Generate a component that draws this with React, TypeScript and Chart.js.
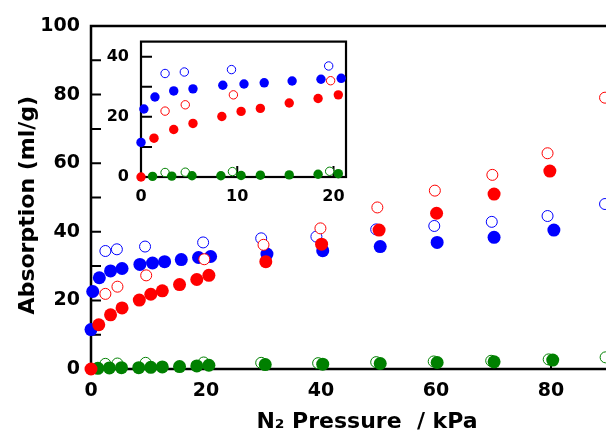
import React, { useEffect, useRef } from "react";
import { Chart, registerables } from "chart.js";

Chart.register(...registerables);

// ---- Data (N2 pressure / kPa, absorption / ml g^-1) ----
const blueFilledX = [0, 0.3, 1.45, 3.4, 5.4, 8.5, 10.7, 12.8, 15.7, 18.7, 20.8, 30.6, 40.3, 50.3, 60.2, 70.1, 80.5];
const blueFilledY = [11.5, 22.6, 26.6, 28.6, 29.3, 30.5, 30.9, 31.3, 31.9, 32.5, 32.8, 33.5, 34.5, 35.7, 36.9, 38.4, 40.5];

const blueOpenX = [2.5, 4.5, 9.4, 19.5, 29.6, 39.2, 49.6, 59.7, 69.7, 79.4, 89.4];
const blueOpenY = [34.4, 34.9, 35.7, 36.9, 38.1, 38.6, 40.7, 41.7, 42.9, 44.6, 48.1];

const redFilledX = [0, 1.35, 3.4, 5.4, 8.4, 10.4, 12.4, 15.4, 18.4, 20.5, 30.4, 40.1, 50.1, 60.1, 70.1, 79.8];
const redFilledY = [0, 12.9, 15.8, 17.8, 20.1, 21.8, 22.8, 24.6, 26.1, 27.3, 31.3, 36.4, 40.5, 45.4, 51.0, 57.7];

const redOpenX = [2.5, 4.6, 9.6, 19.7, 30.0, 39.9, 49.8, 59.8, 69.8, 79.4, 89.4];
const redOpenY = [21.9, 24.0, 27.3, 32.0, 36.2, 41.0, 47.1, 52.0, 56.6, 62.9, 79.1];

const greenFilledX = [1.2, 3.2, 5.3, 8.3, 10.4, 12.4, 15.4, 18.4, 20.5, 30.3, 40.3, 50.3, 60.2, 70.1, 80.3];
const greenFilledY = [0.2, 0.3, 0.4, 0.4, 0.5, 0.6, 0.7, 0.9, 1.1, 1.3, 1.4, 1.6, 1.9, 2.1, 2.6];

const greenOpenX = [2.5, 4.6, 9.5, 19.6, 29.6, 39.5, 49.6, 59.6, 69.6, 79.6, 89.5];
const greenOpenY = [1.5, 1.6, 1.8, 1.9, 1.8, 1.7, 2.0, 2.2, 2.4, 2.8, 3.4];

const xTitle = "N\u2082 Pressure  / kPa   ";
const yTitle = "Absorption (ml/g)  ";

const BLUE = "#0000FF";
const RED = "#FF0000";
const GREEN = "#008000";
const FONT = "'DejaVu Sans', sans-serif";

const pts = (xs: number[], ys: number[]) => xs.map((x, i) => ({ x, y: ys[i] }));

function makeDatasets(filledR: number, openR: number) {
  const filled = (label: string, xs: number[], ys: number[], c: string) => ({
    label,
    data: pts(xs, ys),
    pointRadius: filledR,
    pointBackgroundColor: c,
    pointBorderColor: c,
    pointBorderWidth: 0,
    showLine: false,
    clip: false as const,
  });
  const open = (label: string, xs: number[], ys: number[], c: string) => ({
    label,
    data: pts(xs, ys),
    pointRadius: openR,
    pointBackgroundColor: "#FFFFFF",
    pointBorderColor: c,
    pointBorderWidth: 1,
    showLine: false,
    clip: false as const,
  });
  // first dataset is drawn on top
  return [
    filled("red filled", redFilledX, redFilledY, RED),
    open("red open", redOpenX, redOpenY, RED),
    filled("green filled", greenFilledX, greenFilledY, GREEN),
    open("green open", greenOpenX, greenOpenY, GREEN),
    filled("blue filled", blueFilledX, blueFilledY, BLUE),
    open("blue open", blueOpenX, blueOpenY, BLUE),
  ];
}

const frameTicks = {
  id: "frameTicks",
  beforeDatasetsDraw(chart: any, _args: any, opts: any) {
    const { ctx, chartArea: a, scales } = chart;
    const xs = scales.x;
    const ys = scales.y;
    ctx.save();
    ctx.strokeStyle = "#000";
    ctx.lineWidth = opts.lineWidth;
    ctx.strokeRect(a.left, a.top, a.right - a.left, a.bottom - a.top);
    ctx.lineWidth = opts.tickWidth;
    ctx.beginPath();
    for (let v = xs.min + opts.xStep; v < xs.max - 1e-6; v += opts.xStep) {
      const p = xs.getPixelForValue(v);
      ctx.moveTo(p, a.bottom);
      ctx.lineTo(p, a.bottom - opts.len);
    }
    for (let v = ys.min + opts.yStep; v < ys.max - 1e-6; v += opts.yStep) {
      const p = ys.getPixelForValue(v);
      ctx.moveTo(a.left, p);
      ctx.lineTo(a.left + opts.len, p);
    }
    ctx.stroke();
    ctx.restore();
  },
};

function mainConfig(): any {
  return {
    type: "scatter",
    data: { datasets: makeDatasets(6.5, 5.5) },
    plugins: [frameTicks],
    options: {
      responsive: false,
      animation: false,
      events: [],
      layout: { padding: { top: 26, right: 34, left: 0, bottom: 0 } },
      plugins: {
        legend: { display: false },
        tooltip: { enabled: false },
        frameTicks: { lineWidth: 2.5, tickWidth: 2, len: 10, xStep: 10, yStep: 10 },
      },
      scales: {
        x: {
          type: "linear",
          min: 0,
          max: 100,
          grid: { display: false, drawTicks: false },
          border: { display: false },
          ticks: {
            stepSize: 20,
            includeBounds: false,
            maxRotation: 0,
            color: "#000",
            padding: 11,
            font: { family: FONT, weight: "bold", size: 19 },
          },
          title: {
            display: true,
            text: xTitle,
            color: "#000",
            padding: { top: 0, bottom: 0 },
            font: { family: FONT, weight: "bold", size: 22 },
          },
          afterFit: (s: any) => {
            s.height = 66;
          },
        },
        y: {
          type: "linear",
          min: 0,
          max: 100,
          grid: { display: false, drawTicks: false },
          border: { display: false },
          ticks: {
            stepSize: 20,
            includeBounds: false,
            color: "#000",
            padding: 11,
            font: { family: FONT, weight: "bold", size: 19 },
          },
          title: {
            display: true,
            text: yTitle,
            color: "#000",
            padding: { top: 15, bottom: 0 },
            font: { family: FONT, weight: "bold", size: 22 },
          },
          afterFit: (s: any) => {
            s.width = 91;
          },
        },
      },
    },
  };
}

function insetConfig(): any {
  return {
    type: "scatter",
    data: { datasets: makeDatasets(4.7, 4.2) },
    plugins: [frameTicks],
    options: {
      responsive: false,
      animation: false,
      events: [],
      layout: { padding: { top: 16, right: 6, left: 0, bottom: 0 } },
      plugins: {
        legend: { display: false },
        tooltip: { enabled: false },
        frameTicks: { lineWidth: 2.2, tickWidth: 2, len: 11, xStep: 10, yStep: 10 },
      },
      scales: {
        x: {
          type: "linear",
          min: 0,
          max: 21.3,
          grid: { display: false, drawTicks: false },
          border: { display: false },
          ticks: {
            stepSize: 10,
            includeBounds: false,
            maxRotation: 0,
            color: "#000",
            padding: 10,
            font: { family: FONT, weight: "bold", size: 16 },
          },
          afterFit: (s: any) => {
            s.height = 33;
          },
        },
        y: {
          type: "linear",
          min: 0,
          max: 45,
          grid: { display: false, drawTicks: false },
          border: { display: false },
          ticks: {
            stepSize: 20,
            includeBounds: false,
            color: "#000",
            padding: 12,
            font: { family: FONT, weight: "bold", size: 16 },
          },
          afterFit: (s: any) => {
            s.width = 41;
          },
        },
      },
    },
  };
}

export default function App() {
  const mainRef = useRef<HTMLCanvasElement | null>(null);
  const insetRef = useRef<HTMLCanvasElement | null>(null);

  useEffect(() => {
    if (!mainRef.current || !insetRef.current) return;
    const main = new Chart(mainRef.current, mainConfig());
    const inset = new Chart(insetRef.current, insetConfig());
    return () => {
      main.destroy();
      inset.destroy();
    };
  }, []);

  return (
    <div
      style={{
        position: "fixed",
        left: 0,
        top: 0,
        width: 606,
        height: 435,
        overflow: "hidden",
        background: "#fff",
      }}
    >
      <canvas
        ref={mainRef}
        width={700}
        height={435}
        style={{ position: "absolute", left: 0, top: 0, display: "block" }}
      />
      <canvas
        ref={insetRef}
        width={255}
        height={190}
        style={{ position: "absolute", left: 100, top: 20, display: "block" }}
      />
    </div>
  );
}
